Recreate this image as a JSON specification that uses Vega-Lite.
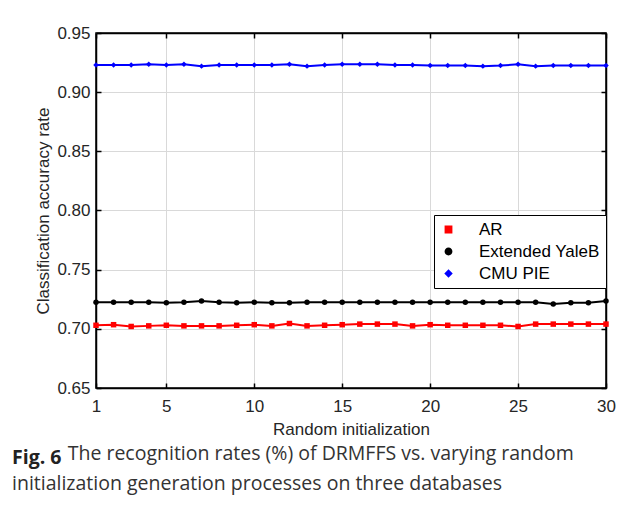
{
  "$schema": "https://vega.github.io/schema/vega-lite/v6.json",
  "width": 510,
  "height": 355,
  "autosize": {"type": "none"},
  "padding": {"left": 96, "top": 33, "right": 23, "bottom": 118},
  "background": "white",
  "title": {
    "text": "Fig. 6",
    "subtitle": ["\u200b\u00a0\u00a0\u00a0\u00a0\u00a0\u00a0\u00a0\u00a0\u00a0\u00a0\u00a0The recognition rates (%) of DRMFFS vs. varying random", "initialization generation processes on three databases"],
    "orient": "bottom",
    "anchor": "start",
    "frame": "group",
    "dx": -84,
    "offset": 12,
    "font": "Open Sans",
    "fontSize": 19.5,
    "fontWeight": "bold",
    "color": "#222222",
    "subtitleFont": "Open Sans",
    "subtitleFontSize": 19.5,
    "subtitleColor": "#333333",
    "subtitleLineHeight": 30,
    "subtitlePadding": -24
  },
  "data": {
    "values": [
      {"run":1,"db":"AR","acc":0.703},{"run":2,"db":"AR","acc":0.7035},{"run":3,"db":"AR","acc":0.702},{"run":4,"db":"AR","acc":0.7025},{"run":5,"db":"AR","acc":0.703},{"run":6,"db":"AR","acc":0.7025},{"run":7,"db":"AR","acc":0.7025},{"run":8,"db":"AR","acc":0.7025},{"run":9,"db":"AR","acc":0.703},{"run":10,"db":"AR","acc":0.7035},{"run":11,"db":"AR","acc":0.7025},{"run":12,"db":"AR","acc":0.7045},{"run":13,"db":"AR","acc":0.7025},{"run":14,"db":"AR","acc":0.703},{"run":15,"db":"AR","acc":0.7035},{"run":16,"db":"AR","acc":0.704},{"run":17,"db":"AR","acc":0.704},{"run":18,"db":"AR","acc":0.704},{"run":19,"db":"AR","acc":0.7025},{"run":20,"db":"AR","acc":0.7035},{"run":21,"db":"AR","acc":0.703},{"run":22,"db":"AR","acc":0.703},{"run":23,"db":"AR","acc":0.703},{"run":24,"db":"AR","acc":0.703},{"run":25,"db":"AR","acc":0.702},{"run":26,"db":"AR","acc":0.704},{"run":27,"db":"AR","acc":0.704},{"run":28,"db":"AR","acc":0.704},{"run":29,"db":"AR","acc":0.704},{"run":30,"db":"AR","acc":0.704},
      {"run":1,"db":"Extended YaleB","acc":0.7225},{"run":2,"db":"Extended YaleB","acc":0.7225},{"run":3,"db":"Extended YaleB","acc":0.7225},{"run":4,"db":"Extended YaleB","acc":0.7225},{"run":5,"db":"Extended YaleB","acc":0.722},{"run":6,"db":"Extended YaleB","acc":0.7225},{"run":7,"db":"Extended YaleB","acc":0.7235},{"run":8,"db":"Extended YaleB","acc":0.7225},{"run":9,"db":"Extended YaleB","acc":0.722},{"run":10,"db":"Extended YaleB","acc":0.7225},{"run":11,"db":"Extended YaleB","acc":0.722},{"run":12,"db":"Extended YaleB","acc":0.722},{"run":13,"db":"Extended YaleB","acc":0.7225},{"run":14,"db":"Extended YaleB","acc":0.7225},{"run":15,"db":"Extended YaleB","acc":0.7225},{"run":16,"db":"Extended YaleB","acc":0.7225},{"run":17,"db":"Extended YaleB","acc":0.7225},{"run":18,"db":"Extended YaleB","acc":0.7225},{"run":19,"db":"Extended YaleB","acc":0.7225},{"run":20,"db":"Extended YaleB","acc":0.7225},{"run":21,"db":"Extended YaleB","acc":0.7225},{"run":22,"db":"Extended YaleB","acc":0.7225},{"run":23,"db":"Extended YaleB","acc":0.7225},{"run":24,"db":"Extended YaleB","acc":0.7225},{"run":25,"db":"Extended YaleB","acc":0.7225},{"run":26,"db":"Extended YaleB","acc":0.7225},{"run":27,"db":"Extended YaleB","acc":0.721},{"run":28,"db":"Extended YaleB","acc":0.722},{"run":29,"db":"Extended YaleB","acc":0.722},{"run":30,"db":"Extended YaleB","acc":0.7235},
      {"run":1,"db":"CMU PIE","acc":0.923},{"run":2,"db":"CMU PIE","acc":0.923},{"run":3,"db":"CMU PIE","acc":0.923},{"run":4,"db":"CMU PIE","acc":0.9235},{"run":5,"db":"CMU PIE","acc":0.923},{"run":6,"db":"CMU PIE","acc":0.9235},{"run":7,"db":"CMU PIE","acc":0.922},{"run":8,"db":"CMU PIE","acc":0.923},{"run":9,"db":"CMU PIE","acc":0.923},{"run":10,"db":"CMU PIE","acc":0.923},{"run":11,"db":"CMU PIE","acc":0.923},{"run":12,"db":"CMU PIE","acc":0.9235},{"run":13,"db":"CMU PIE","acc":0.922},{"run":14,"db":"CMU PIE","acc":0.923},{"run":15,"db":"CMU PIE","acc":0.9235},{"run":16,"db":"CMU PIE","acc":0.9235},{"run":17,"db":"CMU PIE","acc":0.9235},{"run":18,"db":"CMU PIE","acc":0.923},{"run":19,"db":"CMU PIE","acc":0.923},{"run":20,"db":"CMU PIE","acc":0.9225},{"run":21,"db":"CMU PIE","acc":0.9225},{"run":22,"db":"CMU PIE","acc":0.9225},{"run":23,"db":"CMU PIE","acc":0.922},{"run":24,"db":"CMU PIE","acc":0.9225},{"run":25,"db":"CMU PIE","acc":0.9235},{"run":26,"db":"CMU PIE","acc":0.922},{"run":27,"db":"CMU PIE","acc":0.9225},{"run":28,"db":"CMU PIE","acc":0.9225},{"run":29,"db":"CMU PIE","acc":0.9225},{"run":30,"db":"CMU PIE","acc":0.9225}
    ]
  },
  "layer": [
    {
      "mark": {"type": "line", "strokeWidth": 2},
      "encoding": {
        "x": {"field": "run", "type": "quantitative", "scale": {"domain": [1, 30], "nice": false, "zero": false},
          "axis": {"orient": "bottom", "values": [1, 5, 10, 15, 20, 25, 30], "title": "Random initialization", "grid": true}},
        "y": {"field": "acc", "type": "quantitative", "scale": {"domain": [0.65, 0.95], "nice": false, "zero": false},
          "axis": {"orient": "left", "values": [0.65, 0.7, 0.75, 0.8, 0.85, 0.9, 0.95], "format": ".2f", "title": "Classification accuracy rate", "grid": true}},
        "color": {"field": "db", "type": "nominal",
          "scale": {"domain": ["AR", "Extended YaleB", "CMU PIE"], "range": ["#ff0000", "#000000", "#0000ff"]}},
        "detail": {"field": "db"}
      }
    },
    {
      "mark": {"type": "point", "filled": true, "opacity": 1},
      "encoding": {
        "x": {"field": "run", "type": "quantitative", "axis": null},
        "y": {"field": "acc", "type": "quantitative", "axis": null},
        "color": {"field": "db", "type": "nominal"},
        "shape": {"field": "db", "type": "nominal",
          "scale": {"domain": ["AR", "Extended YaleB", "CMU PIE"], "range": ["square", "circle", "diamond"]}},
        "size": {"value": 30}
      }
    },
    {
      "mark": {"type": "point", "opacity": 0},
      "encoding": {
        "x": {"field": "run", "type": "quantitative", "axis": {"orient": "top", "values": [1, 5, 10, 15, 20, 25, 30], "labels": false, "title": null, "grid": false}},
        "y": {"field": "acc", "type": "quantitative", "axis": {"orient": "right", "values": [0.65, 0.7, 0.75, 0.8, 0.85, 0.9, 0.95], "labels": false, "title": null, "grid": false}}
      }
    }
  ],
  "resolve": {"axis": {"x": "independent", "y": "independent"}},
  "config": {
    "view": {"stroke": "#000000", "strokeWidth": 1.5},
    "font": "Liberation Sans",
    "axis": {
      "domainColor": "#000000",
      "domainWidth": 1.5,
      "tickColor": "#000000",
      "tickWidth": 1.5,
      "tickSize": -5,
      "gridColor": "#d9d9d9",
      "gridWidth": 1,
      "labelFont": "Liberation Sans",
      "labelFontSize": 17,
      "labelColor": "#262626",
      "titleFont": "Liberation Sans",
      "titleFontSize": 17,
      "titleFontWeight": "normal",
      "titleColor": "#262626"
    },
    "axisX": {"labelPadding": 15, "titlePadding": 7, "labelFlush": false},
    "axisY": {"labelPadding": 11, "titlePadding": 4},
    "legend": {
      "orient": "none",
      "legendX": 338,
      "legendY": 182,
      "title": null,
      "strokeColor": "#000000",
      "fillColor": "#ffffff",
      "padding": 6,
      "labelFont": "Liberation Sans",
      "labelFontSize": 17,
      "labelColor": "#000000",
      "labelOffset": 22,
      "symbolSize": 40,
      "rowPadding": 4
    }
  }
}
